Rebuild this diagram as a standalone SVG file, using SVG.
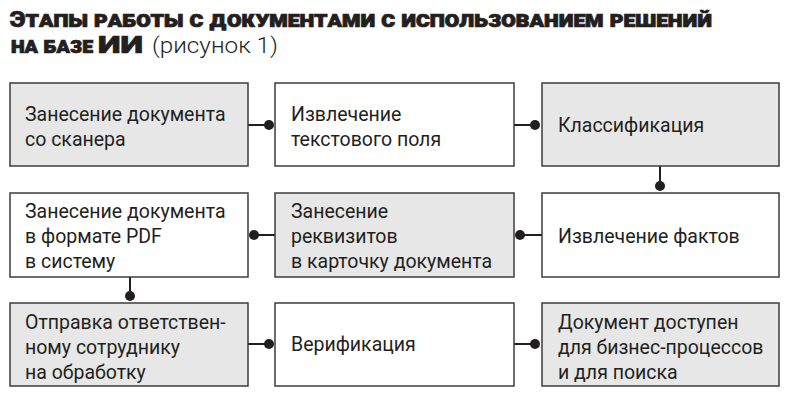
<svg xmlns="http://www.w3.org/2000/svg" width="800" height="407" viewBox="0 0 800 407">
<style>
.bg{fill:#ffffff}
.box{stroke:#3c3c3c;stroke-width:1.5;fill:#ffffff}
.g{fill:#e7e7e7}
.t{font-family:Roboto,"Noto Sans","DejaVu Sans",sans-serif;font-size:19.5px;fill:#231f20}
.c line{stroke:#231f20;stroke-width:2}
.c circle{fill:#231f20}
.h{font-family:Roboto,"Liberation Sans",sans-serif;font-weight:900;fill:#231f20;stroke:#231f20;stroke-width:0.7;font-size:22px}
.sc{font-variant:small-caps}
.r{font-family:Roboto,"Noto Sans",sans-serif;font-weight:300;font-size:22px;fill:#231f20}
</style>
<rect class="bg" x="0" y="0" width="800" height="407"/>
<g id="title">
<text class="h sc" x="10" y="27" textLength="702" lengthAdjust="spacingAndGlyphs">Этапы работы с документами с использованием решений</text>
<text class="h sc" x="11" y="53" textLength="82" lengthAdjust="spacingAndGlyphs">на базе</text>
<text class="h" x="98" y="53" font-size="23" style="font-size:23px" textLength="45" lengthAdjust="spacingAndGlyphs">ИИ</text>
<text class="r" x="152" y="53" textLength="126" lengthAdjust="spacingAndGlyphs">(рисунок 1)</text>
</g>
<g class="c" id="connectors">
<line x1="248" y1="125" x2="269" y2="125"/><circle cx="269" cy="125" r="5"/>
<line x1="514" y1="125" x2="535" y2="125"/><circle cx="535" cy="125" r="5"/>
<line x1="660" y1="166" x2="660" y2="186"/><circle cx="660" cy="186" r="5"/>
<line x1="542" y1="235" x2="520" y2="235"/><circle cx="520" cy="235" r="5"/>
<line x1="275" y1="235" x2="254" y2="235"/><circle cx="254" cy="235" r="5"/>
<line x1="130" y1="277" x2="130" y2="296"/><circle cx="130" cy="296" r="5"/>
<line x1="248" y1="344" x2="269" y2="344"/><circle cx="269" cy="344" r="5"/>
<line x1="514" y1="344" x2="535" y2="344"/><circle cx="535" cy="344" r="5"/>
</g>
<g id="n1"><rect class="box g" x="10" y="83" width="238" height="83"/>
<text class="t" x="25" y="121">Занесение документа</text><text class="t" x="25" y="146">со сканера</text></g>
<g id="n2"><rect class="box" x="275" y="83" width="239" height="83"/>
<text class="t" x="291" y="121">Извлечение</text><text class="t" x="291" y="146">текстового поля</text></g>
<g id="n3"><rect class="box g" x="542" y="83" width="237" height="83"/>
<text class="t" x="558" y="132">Классификация</text></g>
<g id="n4"><rect class="box" x="542" y="193" width="237" height="84"/>
<text class="t" x="558" y="243">Извлечение фактов</text></g>
<g id="n5"><rect class="box g" x="275" y="193" width="239" height="84"/>
<text class="t" x="291" y="218">Занесение</text><text class="t" x="291" y="243">реквизитов</text><text class="t" x="291" y="268">в карточку документа</text></g>
<g id="n6"><rect class="box" x="10" y="193" width="238" height="84"/>
<text class="t" x="25" y="218">Занесение документа</text><text class="t" x="25" y="243">в формате PDF</text><text class="t" x="25" y="268">в систему</text></g>
<g id="n7"><rect class="box g" x="10" y="303" width="238" height="83"/>
<text class="t" x="25" y="329">Отправка ответствен-</text><text class="t" x="25" y="354">ному сотруднику</text><text class="t" x="25" y="379">на обработку</text></g>
<g id="n8"><rect class="box" x="275" y="303" width="239" height="83"/>
<text class="t" x="291" y="351">Верификация</text></g>
<g id="n9"><rect class="box g" x="542" y="303" width="237" height="83"/>
<text class="t" x="558" y="329">Документ доступен</text><text class="t" x="558" y="354">для бизнес-процессов</text><text class="t" x="558" y="379">и для поиска</text></g>
</svg>
